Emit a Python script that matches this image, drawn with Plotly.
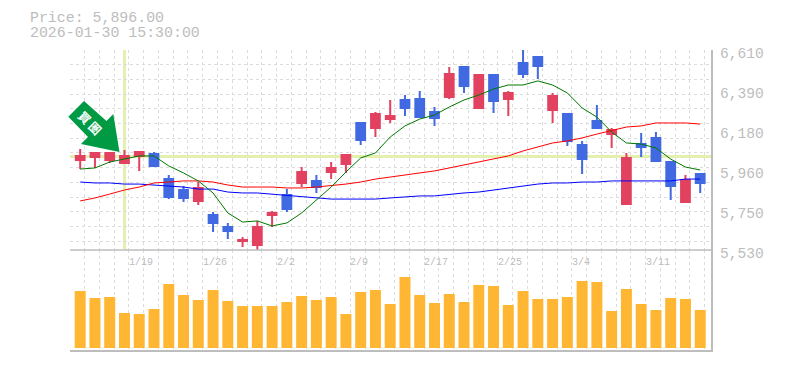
import plotly.graph_objects as go

idx = list(range(43))
opens = [6016,6032,6016,6000,6038,6048,5913,5854,5795,5719,5654,5579,5557,5719,5827,5892,5903,5951,5994,6216,6189,6237,6340,6345,6275,6356,6518,6297,6475,6345,6540,6572,6286,6264,6097,6227,6156,5778,6102,6135,6005,5789,5940]
highs = [6075,6059,6054,6070,6059,6059,5935,5876,5897,5735,5676,5600,5687,5741,5859,5978,5935,6005,6043,6216,6275,6340,6367,6389,6302,6518,6518,6475,6475,6389,6610,6572,6378,6270,6119,6313,6189,6054,6162,6167,6005,5935,5940]
lows = [5967,5973,6000,6000,5957,5984,5805,5789,5773,5627,5589,5546,5525,5654,5735,5870,5838,5913,5946,6097,6140,6216,6254,6248,6200,6345,6378,6291,6270,6254,6459,6453,6216,6092,5940,6189,6081,5778,6032,6011,5800,5789,5838]
closes = [6038,6054,6054,6038,6059,5984,5816,5811,5865,5676,5633,5584,5654,5730,5751,5951,5870,5973,6043,6124,6264,6254,6297,6248,6243,6480,6416,6475,6335,6378,6480,6524,6362,6119,6021,6189,6178,6027,6086,6011,5876,5908,5892]
ma_short = [5967,5973,6005,6021,6038,6038,5984,5946,5903,5838,5730,5681,5687,5660,5676,5730,5800,5870,5951,6027,6054,6140,6200,6237,6259,6302,6340,6367,6399,6421,6421,6443,6421,6378,6297,6248,6167,6108,6102,6081,6021,5978,5962]
ma_mid = [5795,5811,5832,5854,5870,5892,5897,5903,5903,5897,5881,5870,5870,5870,5865,5865,5870,5876,5886,5897,5913,5924,5935,5946,5957,5973,5989,6005,6021,6038,6065,6086,6108,6119,6135,6156,6173,6194,6200,6216,6216,6216,6210]
ma_long = [5897,5892,5892,5886,5886,5881,5876,5870,5859,5859,5843,5838,5838,5832,5822,5816,5811,5805,5805,5805,5805,5811,5816,5822,5822,5832,5838,5843,5854,5865,5876,5886,5892,5892,5897,5897,5903,5903,5903,5903,5903,5913,5913]
volumes = [57,50,51,35,34,39,64,53,48,58,47,42,42,42,46,52,48,51,34,56,58,44,71,53,45,54,46,63,62,43,57,49,49,51,67,66,37,59,44,38,50,49,38]
price_ticks = [6610,6394,6178,5962,5746,5530]
price_labels = ["6,610","6,390","6,180","5,960","5,750","5,530"]
date_pos = [3,8,13,18,23,28,33,38]
date_labels = ["1/19","1/26","2/2","2/9","2/17","2/25","3/4","3/11"]
title_lines = ["Price: 5,896.00","2026-01-30 15:30:00"]
cross_x = 3
cross_y = 6035

PAGE = 8  # default body margin of the written page
W,H = 785-2*PAGE,370-2*PAGE
L,R,T,B = 70,711,50,350
MONO = "Liberation Mono"
GREY = "#bdbdbd"
GRID = "#dcdcdc"
CROSS = "#e4f0ad"

def px(x): return (x-L)/(R-L)
def py(y): return (B-y)/(B-T)

fig = go.Figure()
for vals,col in ((ma_long,"#0000ff"),(ma_mid,"#ff0000"),(ma_short,"#007700")):
    fig.add_trace(go.Scatter(x=idx,y=vals,mode="lines",line=dict(color=col,width=1),yaxis="y",hoverinfo="skip"))
fig.add_trace(go.Candlestick(x=idx,open=opens,high=highs,low=lows,close=closes,yaxis="y",
    increasing=dict(line=dict(color="#e2425f",width=2),fillcolor="#e2425f"),
    decreasing=dict(line=dict(color="#4169e1",width=2),fillcolor="#4169e1"),whiskerwidth=0))
fig.add_trace(go.Bar(x=idx,y=volumes,yaxis="y2",marker=dict(color="#ffb733",line=dict(width=0)),width=0.745))
fig.add_trace(go.Scatter(x=[0],y=[None],yaxis="y3",hoverinfo="skip",showlegend=False))

arrow = [(84,101),(68.3,116.7),(88,137),(81,144),(119.5,152),(113.3,114),(106.5,121)]
path = "M "+" L ".join(f"{px(a):.5f},{py(b):.5f}" for a,b in arrow)+" Z"
shapes = [
    dict(type="line",xref="x",yref="paper",x0=cross_x,x1=cross_x,y0=py(249),y1=1,line=dict(color=CROSS,width=3),layer="below"),
    dict(type="line",xref="paper",yref="y",x0=0,x1=1,y0=cross_y,y1=cross_y,line=dict(color=CROSS,width=3),layer="below"),
    dict(type="line",xref="paper",yref="paper",x0=0,x1=1,y0=py(250),y1=py(250),line=dict(color=GREY,width=1.5)),
    dict(type="path",xref="paper",yref="paper",path=path,fillcolor="#009a44",line=dict(width=0)),
]
ann = [dict(xref="paper",yref="paper",x=px(30),y=py(18+i*15),xanchor="left",yanchor="middle",showarrow=False,
            text=t,font=dict(family=MONO,size=14.9,color=GREY),borderpad=0,xshift=-1) for i,t in enumerate(title_lines)]
ann += [dict(xref="x",yref="paper",x=p+0.3,y=py(262),xanchor="left",yanchor="middle",showarrow=False,xshift=-1,
             text=t,font=dict(family=MONO,size=10,color=GREY),borderpad=0) for p,t in zip(date_pos,date_labels)]
ann.append(dict(xref="paper",yref="paper",x=px(90.5),y=py(122.5),xanchor="center",yanchor="middle",textangle=45,showarrow=False,
                text="<b>買 圏</b>",font=dict(family="Noto Sans CJK JP",size=12,color="white")))

fig.update_layout(
    width=W,height=H,margin=dict(l=L-PAGE,r=W-(R-PAGE),t=T-PAGE,b=H-(B-PAGE),autoexpand=False),
    paper_bgcolor="white",plot_bgcolor="white",showlegend=False,boxgap=0.15,
    shapes=shapes,annotations=ann,
    xaxis=dict(range=[-0.69,42.73],anchor="y2",tickmode="linear",tick0=0.3,dtick=1,showticklabels=False,ticks="",
               showgrid=True,gridcolor=GRID,griddash="3px,3px",gridwidth=1,zeroline=False,
               showline=True,linecolor=GREY,linewidth=1.5,rangeslider=dict(visible=False)),
    yaxis=dict(domain=[1/3,1],range=[5530,6610],side="right",anchor="x",tickmode="linear",tick0=6610,dtick=79.38,
               showticklabels=False,ticks="",showgrid=True,gridcolor=GRID,griddash="3px,3px",gridwidth=1,zeroline=False,
               showline=True,linecolor=GREY,linewidth=1.5),
    yaxis3=dict(domain=[1/3,1],range=[5530,6610],side="right",anchor="x",overlaying="y",tickmode="array",tickvals=price_ticks,ticktext=price_labels,
               tickfont=dict(family=MONO,size=14.6,color=GREY),ticks="",ticklabelstandoff=8,ticklabelshift=3,showgrid=False,zeroline=False),
    yaxis2=dict(domain=[0,1/3],range=[-2,98],side="right",anchor="x",showticklabels=False,ticks="",showgrid=False,zeroline=False,
                showline=True,linecolor=GREY,linewidth=1.5),
)
fig.write_html("out.html")
